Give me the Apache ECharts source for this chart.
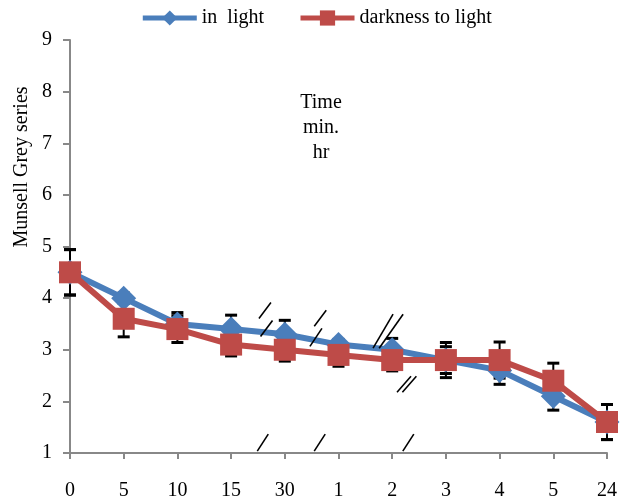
<!DOCTYPE html>
<html>
<head>
<meta charset="utf-8">
<script src="https://cdn.jsdelivr.net/npm/echarts@6/dist/echarts.min.js"></script>
<style>
html,body{margin:0;padding:0;background:#fff;}
#main{width:632px;height:501px;}
</style>
</head>
<body>
<div id="main"></div>
<script>
// ---- data ----
const categories = ['0','5','10','15','30','1','2','3','4','5','24'];
const inLight = [4.5, 4.0, 3.5, 3.4, 3.3, 3.1, 3.0, 2.8, 2.6, 2.1, 1.6];
const darkToLight = [4.5, 3.6, 3.4, 3.1, 3.0, 2.9, 2.8, 2.8, 2.8, 2.4, 1.6];
const inLightErr = [0.44, 0.1, 0.22, 0.27, 0.27, 0.1, 0.22, 0.34, 0.27, 0.27, 0.34];
const darkToLightErr = [0.44, 0.35, 0.26, 0.22, 0.22, 0.22, 0.21, 0.26, 0.35, 0.34, 0.34];
const yTicks = [1,2,3,4,5,6,7,8,9];

const FONT = '"Liberation Serif", "Times New Roman", serif';
const BLUE = '#4A7EBB', RED = '#BE4B48';

function errData(vals, errs){
  return vals.map((v,i)=>[i, v - errs[i], v + errs[i]]);
}
function errRender(params, api){
  const x = api.value(0);
  const lo = api.coord([x, api.value(1)]);
  const hi = api.coord([x, api.value(2)]);
  const cw = 6;
  return {type:'group', children:[
    {type:'line', shape:{x1:lo[0],y1:lo[1],x2:hi[0],y2:hi[1]}, style:{stroke:'#000', lineWidth:2}},
    {type:'line', shape:{x1:lo[0]-cw,y1:lo[1],x2:lo[0]+cw,y2:lo[1]}, style:{stroke:'#000', lineWidth:3}},
    {type:'line', shape:{x1:hi[0]-cw,y1:hi[1],x2:hi[0]+cw,y2:hi[1]}, style:{stroke:'#000', lineWidth:3}}
  ]};
}

const chart = echarts.init(document.getElementById('main'), null, {renderer:'canvas'});
chart.setOption({
  animation:false,
  backgroundColor:'#fff',
  textStyle:{fontFamily:FONT},
  grid:{left:70, right:25, top:40, bottom:47, containLabel:false},
  legend:{
    top:3, left:'center', itemGap:34, itemWidth:54, itemHeight:19,
    textStyle:{fontFamily:FONT, fontSize:20, color:'#000'},
    lineStyle:{width:5},
    data:['in  light','darkness to light']
  },
  xAxis:{
    type:'category', data:categories, boundaryGap:false,
    axisLine:{lineStyle:{color:'#888', width:2}},
    axisTick:{show:true, length:6, lineStyle:{color:'#888', width:2}, alignWithLabel:true},
    axisLabel:{color:'#000', fontFamily:FONT, fontSize:20, margin:28},
    splitLine:{show:false}
  },
  yAxis:{
    type:'value', min:yTicks[0], max:yTicks[yTicks.length-1], interval:1,
    axisLine:{show:true, lineStyle:{color:'#888', width:2}},
    axisTick:{show:true, length:7, lineStyle:{color:'#888', width:2}},
    axisLabel:{color:'#000', fontFamily:FONT, fontSize:20, margin:18},
    splitLine:{show:false}
  },
  series:[
    {name:'errLight', type:'custom', renderItem:errRender, data:errData(inLight,inLightErr), z:1, silent:true},
    {name:'errDark', type:'custom', renderItem:errRender, data:errData(darkToLight,darkToLightErr), z:1, silent:true},
    {name:'in  light', type:'line', data:inLight, z:3,
     symbol:'diamond', symbolSize:25, showAllSymbol:true,
     lineStyle:{color:BLUE, width:6}, itemStyle:{color:BLUE, borderWidth:0}, color:BLUE},
    {name:'darkness to light', type:'line', data:darkToLight, z:4,
     symbol:'rect', symbolSize:22, showAllSymbol:true,
     lineStyle:{color:RED, width:6}, itemStyle:{color:RED, borderWidth:0}, color:RED}
  ]
});

// axis-break slashes: [fractional category index, y value, half-dx, half-dy]
const breaks = [
  [3.63, 3.76, 6, 8], [3.66, 3.41, 6, 8],
  [4.66, 3.61, 6, 8], [4.58, 3.24, 6, 9],
  [5.83, 3.36, 10, 17], [5.98, 3.36, 12, 17],
  [6.22, 2.33, 7, 8], [6.32, 2.33, 7, 8],
  [3.59, 1.2, 5.5, 8.5], [4.65, 1.2, 5.5, 8.5], [6.3, 1.2, 5.5, 8.5]
];
const gfx = [];
const p0 = chart.convertToPixel({xAxisIndex:0}, 0);
const p1 = chart.convertToPixel({xAxisIndex:0}, 1);
breaks.forEach(b=>{
  const y = chart.convertToPixel({yAxisIndex:0}, b[1]);
  const x = p0 + (p1 - p0) * b[0];
  gfx.push({type:'line', shape:{x1:x-b[2], y1:y+b[3], x2:x+b[2], y2:y-b[3]}, style:{stroke:'#000', lineWidth:1.6}, z:10});
});
gfx.push({type:'text', x:321, y:90, z:10,
  style:{text:'Time\nmin.\nhr', fontFamily:FONT, fontSize:20, fill:'#000', align:'center', lineHeight:25}});
gfx.push({type:'text', x:22, y:167, rotation:Math.PI/2, z:10,
  style:{text:'Munsell Grey series', fontFamily:FONT, fontSize:20, fill:'#000', align:'center', verticalAlign:'middle'}});
chart.setOption({graphic:gfx});
</script>
</body>
</html>
